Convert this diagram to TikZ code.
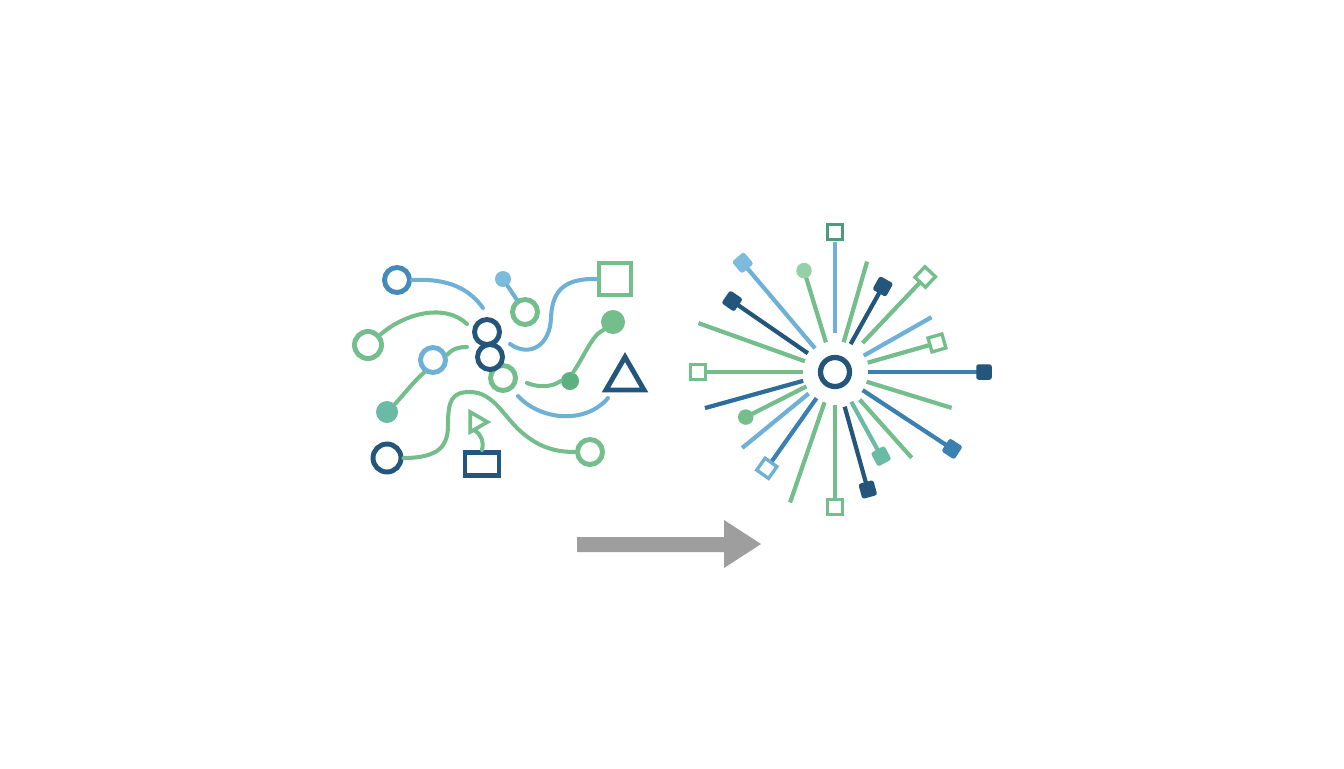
\documentclass[tikz,border=0pt]{standalone}
\usetikzlibrary{calc,shapes.geometric}
\definecolor{dkblue}{HTML}{24567C}
\definecolor{dkblueb}{HTML}{2D6D9B}
\definecolor{midblue}{HTML}{3A80B0}
\definecolor{ltblue}{HTML}{6EB0D6}
\definecolor{paleblue}{HTML}{7DBBDD}
\definecolor{green}{HTML}{74BE8C}
\definecolor{ltgreen}{HTML}{94D0A8}
\definecolor{dotgreen}{HTML}{5DB07F}
\definecolor{teal}{HTML}{6ABAA6}
\definecolor{tealdk}{HTML}{4E9A7E}
\definecolor{arrowgray}{HTML}{9E9E9E}
\begin{document}
\begin{tikzpicture}[x=0.02cm,y=-0.02cm,
    wire/.style={line width=2.3pt,line cap=round},
    spoke/.style={line width=2.4pt},
    ring/.style={circle,draw=#1,line width=2.8pt,inner sep=0pt,minimum size=0.5cm},
    dot/.style={circle,fill=#1,inner sep=0pt},
    osq/.style={rectangle,draw=#1,fill=white,line width=1.9pt,inner sep=0pt,minimum size=0.29cm},
    fsq/.style={rectangle,fill=#1,rounded corners=1.4pt,inner sep=0pt,minimum size=0.31cm},
    fdot/.style={circle,fill=#1,inner sep=0pt,minimum size=0.31cm}]
\useasboundingbox[fill=white] (0,0) rectangle (1344,768);

% tangled side
\node[ring=midblue!80!ltblue] (cA) at (397,280) {};
\node[dot=paleblue,minimum size=0.32cm] (dB) at (503,279) {};
\node[ring=green] (cB) at (525,312) {};
\node[rectangle,draw=green,line width=2.8pt,inner sep=0pt,minimum size=0.64cm] (sq) at (615,279) {};
\node[ring=green,minimum size=0.54cm] (cC) at (368,345) {};
\node[ring=ltblue] (cD) at (433,360) {};
\node[dot=teal,minimum size=0.44cm] (dE) at (387,412) {};
\node[ring=green] (cF) at (503,378) {};
\node[ring=dkblue] (o1) at (487,332) {};
\node[ring=dkblue] (o2) at (490,357) {};
\node[dot=dotgreen,minimum size=0.36cm] (dG) at (570,381) {};
\node[dot=green,minimum size=0.48cm] (dH) at (613,322) {};
\node[regular polygon,regular polygon sides=3,draw=dkblue,line width=2.8pt,inner sep=0pt,minimum size=0.88cm] (tri) at (625,379) {};
\node[ring=dkblue,minimum size=0.56cm] (cI) at (387,458) {};
\node[ring=green] (cJ) at (590,452) {};
\node[rectangle,draw=dkblue,line width=2.8pt,inner sep=0pt,minimum width=0.68cm,minimum height=0.46cm] (box) at (482,464) {};
\node[regular polygon,regular polygon sides=3,shape border rotate=-90,draw=green,line width=2.1pt,inner sep=0pt,minimum size=0.46cm] (ptr) at (476,422) {};

\coordinate (e1) at (483,308);
\coordinate (e2) at (510,344);
\coordinate (e3) at (467,324);
\coordinate (e4) at (467,347);
\coordinate (e5) at (527,383);
\coordinate (e6) at (518,396);
\coordinate (e7) at (608,398);
\coordinate (e8) at (474,430);

\draw[wire,ltblue] (cA.east) .. controls (450,278) and (470,290) .. (e1);
\draw[wire,ltblue] (dB) -- (cB);
\draw[wire,ltblue] (sq.west) .. controls (560,278) and (552,295) .. (551,318) .. controls (550,345) and (530,358) .. (e2);
\draw[wire,green] (cC.40) .. controls (405,313) and (445,303) .. (e3);
\draw[wire,green] (cD.20) .. controls (453,348) and (460,347) .. (e4);
\draw[wire,green] (cD.235) .. controls (415,380) and (405,393) .. (dE.45);
\draw[wire,green] (e5) .. controls (540,388) and (552,387) .. (dG.west);
\draw[wire,green] (dG.70) .. controls (585,355) and (592,335) .. (dH.220);
\draw[wire,ltblue] (e6) .. controls (540,420) and (585,425) .. (e7);
\draw[wire,green] (cI.east) .. controls (440,458) and (448,445) .. (448,425) .. controls (448,400) and (452,392) .. (470,392) .. controls (495,392) and (505,420) .. (525,435) .. controls (540,447) and (555,452) .. (cJ.west);
\draw[wire,green] (box.north) .. controls (484,441) and (481,434) .. (e8);

% arrow
\fill[arrowgray] (577,537) -- (724,537) -- (724,520) -- (761,544) -- (724,568) -- (724,552) -- (577,552) -- cycle;

% ordered side
\coordinate (hub) at (835,372);
\foreach \ang/\rin/\rout/\col in {90/39/130/ltblue, 73.8/31/115/green, 60.8/32/96/dkblue,
    46.5/40/131/green, 29.6/33/111/ltblue, 15.9/34/106/green, 0/33/142/midblue,
    -17.1/33/122/green, -33.3/33/140/midblue, -48.2/37/115/green, -61.3/34/96/teal,
    -74.4/36/122/dkblue, -90/33/135/green, -109/32/138/green, -125.3/32/118/midblue,
    -140.7/34/120/ltblue, -153.2/32/100/green, -164.5/33/135/dkblueb, 180/32/137/green,
    160.3/32/145/green, 145.4/33/125/dkblue, 130.2/31/143/ltblue, 107/31/106/green}
  \draw[spoke,\col] ($(hub)+({-\ang}:\rin)$) -- ($(hub)+({-\ang}:\rout)$);

\foreach \ang/\r/\col in {90/140/tealdk, 46.5/131/green, 15.9/106/green, -90/135/green,
    -125.3/118/ltblue, 180/137/green}
  \node[osq=\col,rotate=\ang] at ($(hub)+({-\ang}:\r)$) {};
\foreach \ang/\r/\col in {60.8/98/dkblue, 0/149/dkblue, -33.3/140/midblue, -61.3/96/teal,
    -74.4/122/dkblue, 145.4/125/dkblue, 130.2/143/paleblue}
  \node[fsq=\col,rotate=\ang] at ($(hub)+({-\ang}:\r)$) {};
\foreach \ang/\r/\col in {-153.2/100/green, 107/106/ltgreen}
  \node[fdot=\col] at ($(hub)+({-\ang}:\r)$) {};

\node[circle,draw=dkblue,line width=3pt,inner sep=0pt,minimum size=0.58cm] (center) at (hub) {};
\end{tikzpicture}
\end{document}
